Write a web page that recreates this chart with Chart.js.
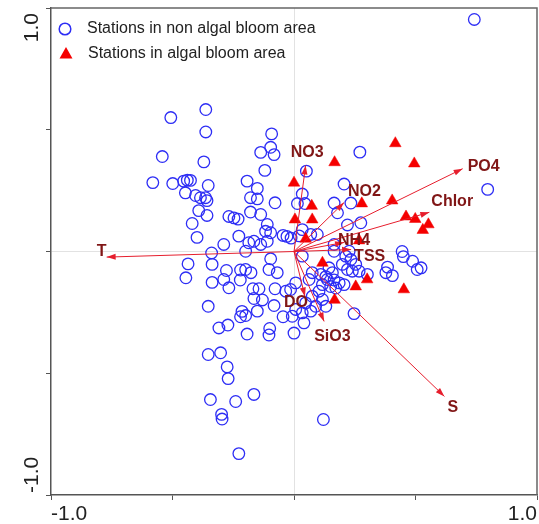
<!DOCTYPE html>
<html>
<head>
<meta charset="utf-8">
<script src="https://cdn.jsdelivr.net/npm/chart.js@4/dist/chart.umd.min.js"></script>
<style>
html,body{margin:0;padding:0;background:#fff;}
#wrap{width:539px;height:524px;position:relative;}
</style>
</head>
<body>
<div id="wrap"><canvas id="c" width="539" height="524"></canvas></div>
<script>
// ---- data ----
const circleX = [0.742,-0.363,-0.507,-0.363,-0.542,-0.371,-0.092,-0.096,-0.137,-0.082,
-0.120,-0.581,-0.499,-0.454,-0.439,-0.426,-0.353,-0.447,-0.405,-0.385,
-0.364,-0.358,-0.193,-0.151,-0.179,-0.151,-0.078,-0.392,-0.358,-0.268,
-0.247,-0.230,-0.179,-0.137,-0.419,-0.399,-0.110,-0.117,-0.096,-0.227,
-0.289,-0.165,-0.186,-0.199,-0.137,-0.110,-0.045,-0.029,-0.012,-0.339,
-0.436,-0.337,-0.445,-0.278,-0.220,-0.199,-0.177,-0.289,-0.337,-0.268,
-0.221,-0.096,-0.103,-0.069,-0.169,-0.144,-0.078,-0.034,-0.165,-0.130,
-0.082,-0.353,-0.214,-0.199,-0.220,-0.151,-0.045,-0.272,-0.309,-0.193,
-0.100,-0.103,-0.007,0.000,-0.353,-0.302,-0.275,-0.271,-0.344,-0.240,
-0.165,-0.298,-0.296,-0.227,0.121,0.797,0.271,0.051,0.034,0.014,
0.045,0.206,0.165,0.234,0.179,0.275,0.220,0.034,0.021,0.096,
0.069,0.165,0.165,0.213,0.227,0.034,0.445,0.450,0.488,0.507,
0.523,0.385,0.378,0.405,0.234,0.254,0.268,0.302,0.199,0.220,
0.240,0.144,0.158,0.075,0.110,0.131,0.062,0.137,0.165,0.186,
0.206,0.117,0.151,0.172,0.007,-0.014,0.103,0.075,0.048,0.117,
0.131,0.007,0.034,0.069,0.089,0.041,0.247];
const circleY = [0.953,0.583,0.550,0.491,0.390,0.368,0.483,0.428,0.407,0.398,
0.333,0.283,0.279,0.289,0.293,0.292,0.271,0.241,0.230,0.221,
0.221,0.209,0.289,0.259,0.221,0.216,0.200,0.168,0.148,0.144,
0.138,0.133,0.162,0.152,0.115,0.058,0.111,0.083,0.077,0.063,
0.029,0.042,0.036,0.001,0.029,0.042,0.066,0.062,0.055,-0.006,
-0.051,-0.053,-0.108,-0.078,-0.076,-0.074,-0.087,-0.115,-0.127,-0.149,
-0.117,-0.030,-0.074,-0.087,-0.153,-0.153,-0.153,-0.163,-0.193,-0.199,
-0.222,-0.225,-0.246,-0.263,-0.268,-0.245,-0.268,-0.302,-0.314,-0.339,
-0.316,-0.343,-0.266,-0.335,-0.423,-0.416,-0.474,-0.522,-0.608,-0.616,
-0.587,-0.669,-0.688,-0.830,-0.690,0.255,0.408,0.330,0.236,0.197,
0.197,0.277,0.199,0.199,0.159,0.118,0.109,0.090,0.064,0.070,
0.070,0.029,0.001,-0.019,0.001,-0.019,0.000,-0.021,-0.040,-0.074,
-0.067,-0.064,-0.087,-0.099,-0.033,-0.053,-0.081,-0.094,-0.053,-0.074,
-0.081,-0.067,-0.087,-0.087,-0.094,-0.103,-0.115,-0.115,-0.117,-0.129,
-0.136,-0.136,-0.144,-0.150,-0.129,-0.156,-0.163,-0.184,-0.211,-0.197,
-0.225,-0.238,-0.252,-0.245,-0.225,-0.293,-0.255];

const triX = [0.417,0.495,0.167,0.000,0.404,0.279,0.073,0.004,0.075,0.461,
0.499,0.553,0.530,0.048,0.268,0.117,0.301,0.254,0.452,0.167];
const triY = [0.444,0.361,0.366,0.282,0.209,0.197,0.187,0.131,0.131,0.143,
0.133,0.111,0.088,0.052,0.045,-0.047,-0.115,-0.144,-0.156,-0.199];

const arrowNames = ['T','S','DO','NO3','NO2','NH4','PO4','SiO3','Chlor','TSS'];
const arrowX = [-0.771,0.619,0.045,0.048,0.206,0.206,0.694,0.124,0.557,0.235];
const arrowY = [-0.023,-0.595,-0.185,0.353,0.201,0.037,0.340,-0.287,0.161,0.008];

const legendLabels = ['Stations in non algal bloom area','Stations in algal bloom area'];
const tickValues = [-1,-0.5,0,0.5,1];
const tickLabels = {'-1':'-1.0','1':'1.0'};

// ---- styles (kept apart from data) ----
const FONT = "'Liberation Sans', Arial, sans-serif";
const BLUE = 'rgb(45,45,245)';
const RED = 'rgb(245,0,0)';
const ARROW = 'rgb(230,30,45)';
const LABEL = 'rgb(128,22,22)';
const labelOffsetPx = {
  T:[-10,-6], S:[3,11], DO:[-21,6], NO3:[-15,-13], NO2:[4,-11],
  NH4:[-6,-2], PO4:[5,-2], SiO3:[-10,15], Chlor:[2,-11], TSS:[3,7]
};

const circles = circleX.map((x,i)=>({x:x,y:circleY[i]}));
const tris = triX.map((x,i)=>({x:x,y:triY[i]}));

const datasets = [];
arrowNames.forEach((n,i)=>{
  datasets.push({
    label:n, isArrow:true,
    data:[{x:0,y:0},{x:arrowX[i],y:arrowY[i]}],
    showLine:true, borderColor:ARROW, borderWidth:1, pointRadius:0,
    order:1
  });
});
datasets.push({label:legendLabels[1], data:tris, pointStyle:'triangle', pointRadius:6.7,
  backgroundColor:RED, borderColor:RED, borderWidth:0.5, order:2});
datasets.push({label:legendLabels[0], data:circles, pointStyle:'circle', pointRadius:5.8,
  backgroundColor:'rgba(0,0,0,0)', borderColor:BLUE, borderWidth:1.3, order:3});

const decor = {
  id:'decor',
  beforeDatasetsDraw(chart){
    const a = chart.chartArea, ctx = chart.ctx;
    ctx.save();
    ctx.strokeStyle = '#666'; ctx.lineWidth = 1.5;
    ctx.beginPath();
    ctx.moveTo(a.left, a.top); ctx.lineTo(a.right, a.top); ctx.lineTo(a.right, a.bottom);
    ctx.stroke();
    ctx.restore();
  },
  afterDatasetsDraw(chart){
    const ctx = chart.ctx;
    ctx.save();
    chart.data.datasets.forEach((ds,di)=>{
      if(!ds.isArrow) return;
      const meta = chart.getDatasetMeta(di);
      const p0 = meta.data[0], p1 = meta.data[1];
      const ang = Math.atan2(p1.y-p0.y, p1.x-p0.x);
      const L = 9, W = 3;
      ctx.fillStyle = ARROW;
      ctx.beginPath();
      ctx.moveTo(p1.x, p1.y);
      ctx.lineTo(p1.x - L*Math.cos(ang) + W*Math.sin(ang), p1.y - L*Math.sin(ang) - W*Math.cos(ang));
      ctx.lineTo(p1.x - L*Math.cos(ang) - W*Math.sin(ang), p1.y - L*Math.sin(ang) + W*Math.cos(ang));
      ctx.closePath(); ctx.fill();
      const off = labelOffsetPx[ds.label];
      ctx.fillStyle = LABEL;
      ctx.font = 'bold 16px ' + FONT;
      ctx.textAlign = 'left'; ctx.textBaseline = 'middle';
      ctx.fillText(ds.label, p1.x + off[0], p1.y + off[1]);
    });
    // legend
    const a = chart.chartArea;
    ctx.font = '16px ' + FONT; ctx.textAlign='left'; ctx.textBaseline='middle';
    const lx = a.left + 14, ly1 = a.top + 21, ly2 = a.top + 46;
    ctx.strokeStyle = BLUE; ctx.lineWidth = 1.5;
    ctx.beginPath(); ctx.arc(lx, ly1, 5.8, 0, Math.PI*2); ctx.stroke();
    ctx.fillStyle = RED;
    ctx.beginPath();
    ctx.moveTo(lx+1, ly2-7); ctx.lineTo(lx+1+6.5, ly2+4.5); ctx.lineTo(lx+1-6.5, ly2+4.5); ctx.closePath(); ctx.fill();
    ctx.fillStyle = '#222';
    ctx.fillText(legendLabels[0], lx + 22, ly1);
    ctx.fillText(legendLabels[1], lx + 23, ly2);
    // y axis tick labels (rotated, inner aligned)
    const ys = chart.scales.y;
    ctx.font = '21px ' + FONT; ctx.fillStyle = '#222'; ctx.textBaseline = 'middle';
    ctx.save();
    ctx.translate(32, ys.getPixelForValue(1) + 5);
    ctx.rotate(-Math.PI/2);
    ctx.textAlign = 'right';
    ctx.fillText(tickLabels['1'], 0, 0);
    ctx.restore();
    ctx.save();
    ctx.translate(32, ys.getPixelForValue(-1) - 2);
    ctx.rotate(-Math.PI/2);
    ctx.textAlign = 'left';
    ctx.fillText(tickLabels['-1'], 0, 0);
    ctx.restore();
    ctx.restore();
  }
};

const gridColor = (c)=> (c.tick && c.tick.value === 0) ? '#e2e2e2' : 'rgba(0,0,0,0)';

new Chart(document.getElementById('c'), {
  type:'scatter',
  data:{datasets:datasets},
  options:{
    responsive:false, animation:false, events:[],
    layout:{autoPadding:false, padding:{top:8,right:2,left:0,bottom:0}},
    plugins:{legend:{display:false}, tooltip:{enabled:false}},
    scales:{
      x:{
        type:'linear', min:-1, max:1,
        afterBuildTicks(s){ s.ticks = tickValues.map(v=>({value:v})); },
        afterFit(s){ s.height = 29; s.paddingLeft = 0; s.paddingRight = 0; },
        ticks:{ autoSkip:false, maxRotation:0, minRotation:0, align:'inner', padding:2,
          font:{family:FONT,size:21}, color:'#222',
          callback:(v)=> tickLabels[String(v)] || '' },
        grid:{ color:gridColor, tickColor:'#555', tickLength:5, lineWidth:1 },
        border:{ color:'#555', width:1.5 }
      },
      y:{
        type:'linear', min:-1, max:1,
        afterBuildTicks(s){ s.ticks = tickValues.map(v=>({value:v})); },
        afterFit(s){ s.width = 51; s.paddingTop = 0; s.paddingBottom = 0; },
        ticks:{ display:false },
        grid:{ color:gridColor, tickColor:'#555', tickLength:5, lineWidth:1 },
        border:{ color:'#555', width:1.5 }
      }
    }
  },
  plugins:[decor]
});
</script>
</body>
</html>
